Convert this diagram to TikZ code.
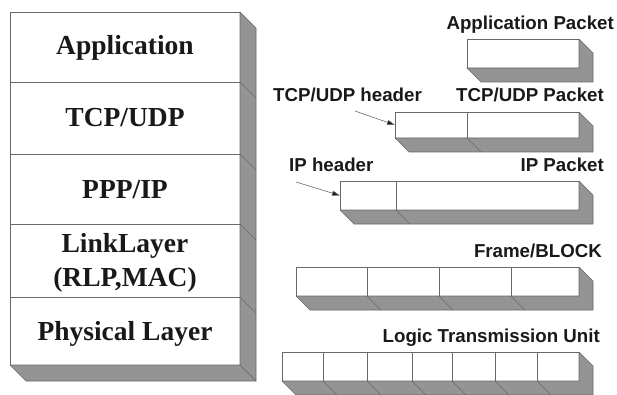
\documentclass[tikz,border=0pt]{standalone}
\usepackage{fontspec}
\setmainfont{Liberation Serif}
\setsansfont{Liberation Sans}
\usetikzlibrary{arrows.meta,calc}
\definecolor{shadecol}{RGB}{148,148,148}
\definecolor{edgecol}{RGB}{105,105,105}
\definecolor{inkcol}{RGB}{25,25,25}
\begin{document}
\begin{tikzpicture}[x=1pt,y=-1pt,
  cell/.style={draw=edgecol,line width=0.7pt,fill=white,rectangle,inner sep=0pt,outer sep=0pt,anchor=north west},
  face/.style={fill=shadecol,draw=edgecol,line width=0.6pt,line join=round},
  seam/.style={draw=edgecol,line width=0.5pt},
  layertext/.style={font=\fontsize{27.5}{30}\selectfont\bfseries,text=inkcol,anchor=base,inner sep=0pt},
  pkttext/.style={font=\sffamily\bfseries\fontsize{18.7}{20}\selectfont,text=inkcol,inner sep=0pt},
  pointer/.style={draw=edgecol,line width=0.6pt,-{Triangle[length=8pt,width=5pt,fill=inkcol]}}
]
\useasboundingbox (0,0) rectangle (617,395);

% ---------- left protocol stack ----------
\def\dd{16}
\node[cell,minimum width=230pt,minimum height=70pt] (L1) at (10,12) {};
\node[cell,minimum width=230pt,minimum height=72pt] (L2) at (10,82) {};
\node[cell,minimum width=230pt,minimum height=70pt] (L3) at (10,154) {};
\node[cell,minimum width=230pt,minimum height=73pt] (L4) at (10,224) {};
\node[cell,minimum width=230pt,minimum height=68pt] (L5) at (10,297) {};
\draw[face] (L1.north east) -- ([shift={(\dd,\dd)}]L1.north east) -- ([shift={(\dd,\dd)}]L5.south east) -- (L5.south east) -- cycle;
\draw[face] (L5.south west) -- (L5.south east) -- ([shift={(\dd,\dd)}]L5.south east) -- ([shift={(\dd,\dd)}]L5.south west) -- cycle;
\foreach \n in {L1,L2,L3,L4}
  \draw[seam] (\n.south east) -- ([shift={(\dd,\dd)}]\n.south east);

\node[layertext] (t1) at (125,55) {Application};
\node[layertext] (t2) at (125,127) {TCP/UDP};
\node[layertext] (t3) at (125,198) {PPP/IP};
\node[layertext] (t4a) at (125,252) {LinkLayer};
\node[layertext] (t4b) at (125,286) {(RLP,MAC)};
\node[layertext] (t5) at (125,340) {Physical Layer};

% ---------- packets ----------
\def\pd{14}
% Application packet
\node[cell,minimum width=112pt,minimum height=29pt] (ap) at (467,39) {};
\draw[face] (ap.north east) -- ([shift={(\pd,\pd)}]ap.north east) -- ([shift={(\pd,\pd)}]ap.south east) -- ([shift={(\pd,\pd)}]ap.south west) -- (ap.south west) -- (ap.south east) -- cycle;
\node[pkttext,anchor=base east] (apl) at (614,30) {Application Packet};

% TCP/UDP packet
\node[cell,minimum width=72pt,minimum height=26pt] (th) at (395,112) {};
\node[cell,minimum width=112pt,minimum height=26pt] (tp) at (467,112) {};
\draw[face] (tp.north east) -- ([shift={(\pd,\pd)}]tp.north east) -- ([shift={(\pd,\pd)}]tp.south east) -- ([shift={(\pd,\pd)}]th.south west) -- (th.south west) -- (tp.south east) -- cycle;
\draw[seam] (th.south east) -- ([shift={(\pd,\pd)}]th.south east);
\node[pkttext,anchor=base east] (tpl) at (604,102) {TCP/UDP Packet};
\node[pkttext,anchor=base west] (thl) at (273,102) {TCP/UDP header};
\coordinate (thtail) at (355,111);
\draw[pointer] (thtail) -- (th.west);

% IP packet
\node[cell,minimum width=56pt,minimum height=29pt] (ih) at (340,181) {};
\node[cell,minimum width=183pt,minimum height=29pt] (ip) at (396,181) {};
\draw[face] (ip.north east) -- ([shift={(\pd,\pd)}]ip.north east) -- ([shift={(\pd,\pd)}]ip.south east) -- ([shift={(\pd,\pd)}]ih.south west) -- (ih.south west) -- (ip.south east) -- cycle;
\draw[seam] (ih.south east) -- ([shift={(\pd,\pd)}]ih.south east);
\node[pkttext,anchor=base east] (ipl) at (604,172) {IP Packet};
\node[pkttext,anchor=base west] (ihl) at (289,172) {IP header};
\coordinate (ihtail) at (296,182);
\draw[pointer] (ihtail) -- (ih.west);

% Frame/BLOCK
\node[cell,minimum width=71pt,minimum height=29pt] (f1) at (296,267) {};
\node[cell,minimum width=72pt,minimum height=29pt] (f2) at (367,267) {};
\node[cell,minimum width=72pt,minimum height=29pt] (f3) at (439,267) {};
\node[cell,minimum width=68pt,minimum height=29pt] (f4) at (511,267) {};
\draw[face] (f4.north east) -- ([shift={(\pd,\pd)}]f4.north east) -- ([shift={(\pd,\pd)}]f4.south east) -- ([shift={(\pd,\pd)}]f1.south west) -- (f1.south west) -- (f4.south east) -- cycle;
\foreach \n in {f1,f2,f3}
  \draw[seam] (\n.south east) -- ([shift={(\pd,\pd)}]\n.south east);
\node[pkttext,anchor=base east] (fl) at (602,257) {Frame/BLOCK};

% Logic Transmission Unit
\node[cell,minimum width=41pt,minimum height=29pt] (u1) at (282,352) {};
\node[cell,minimum width=44pt,minimum height=29pt] (u2) at (323,352) {};
\node[cell,minimum width=45pt,minimum height=29pt] (u3) at (367,352) {};
\node[cell,minimum width=40pt,minimum height=29pt] (u4) at (412,352) {};
\node[cell,minimum width=43pt,minimum height=29pt] (u5) at (452,352) {};
\node[cell,minimum width=42pt,minimum height=29pt] (u6) at (495,352) {};
\node[cell,minimum width=42pt,minimum height=29pt] (u7) at (537,352) {};
\draw[face] (u7.north east) -- ([shift={(\pd,\pd)}]u7.north east) -- ([shift={(\pd,\pd)}]u7.south east) -- ([shift={(\pd,\pd)}]u1.south west) -- (u1.south west) -- (u7.south east) -- cycle;
\foreach \n in {u1,u2,u3,u4,u5,u6}
  \draw[seam] (\n.south east) -- ([shift={(\pd,\pd)}]\n.south east);
\node[pkttext,anchor=base east] (ul) at (600,342) {Logic Transmission Unit};
\end{tikzpicture}
\end{document}
